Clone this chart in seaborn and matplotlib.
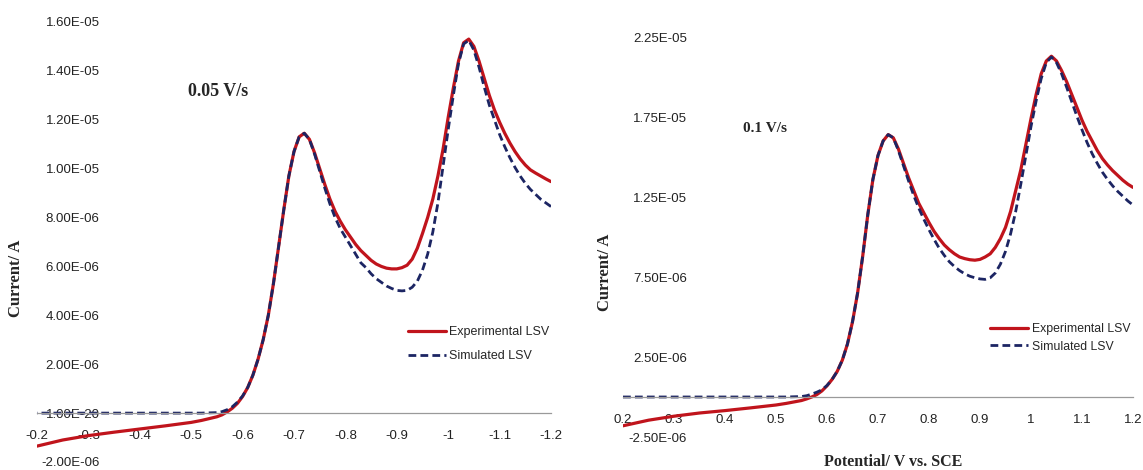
import matplotlib
matplotlib.use("Agg")
import matplotlib.pyplot as plt
import pandas as pd
import seaborn as sns

# ---- data (currents in microamps) ----
pot_slow = [-0.20, -0.25, -0.30, -0.35, -0.40, -0.45, -0.50, -0.52,
            -0.55, -0.56, -0.57, -0.58, -0.59, -0.60, -0.61, -0.62, -0.63, -0.64,
            -0.65, -0.66, -0.67, -0.68, -0.69, -0.70, -0.71, -0.72, -0.73, -0.74,
            -0.75, -0.76, -0.77, -0.78, -0.79, -0.80, -0.81, -0.82, -0.83, -0.84,
            -0.85, -0.86, -0.87, -0.88, -0.89, -0.90, -0.91, -0.92, -0.93, -0.94,
            -0.95, -0.96, -0.97, -0.98, -0.99, -1.00, -1.01, -1.02, -1.03, -1.04,
            -1.05, -1.06, -1.07, -1.08, -1.09, -1.10, -1.11, -1.12, -1.13, -1.14,
            -1.15, -1.16, -1.17, -1.18, -1.19, -1.20]
exp_slow = [-1.35, -1.1, -0.92, -0.78, -0.65, -0.52, -0.38, -0.3,
            -0.15, -0.07, 0.05, 0.2, 0.4, 0.68, 1.05, 1.55, 2.2, 3.0,
            4.0, 5.3, 6.8, 8.3, 9.7, 10.7, 11.3, 11.45, 11.2, 10.65,
            10.0, 9.35, 8.75, 8.25, 7.85, 7.5, 7.2, 6.9, 6.65, 6.45,
            6.25, 6.1, 6.0, 5.93, 5.9, 5.9, 5.95, 6.05, 6.3, 6.75,
            7.35, 8.0, 8.75, 9.7, 10.8, 12.1, 13.3, 14.4, 15.15, 15.3,
            15.0, 14.4, 13.7, 13.0, 12.4, 11.9, 11.45, 11.05, 10.7, 10.4,
            10.15, 9.95, 9.82, 9.7, 9.58, 9.47]
sim_slow = [0.0, 0.0, 0.0, 0.0, 0.0, 0.0, 0.0, 0.0,
            0.02, 0.06, 0.14, 0.26, 0.45, 0.7, 1.05, 1.55, 2.2, 3.0,
            4.0, 5.3, 6.8, 8.3, 9.7, 10.7, 11.3, 11.45, 11.2, 10.6,
            9.9, 9.2, 8.55, 8.0, 7.55, 7.2, 6.85, 6.5, 6.15, 5.95,
            5.7, 5.5, 5.35, 5.2, 5.1, 5.02, 5.0, 5.02, 5.15, 5.4,
            5.85, 6.5, 7.4, 8.6, 10.1, 11.6, 13.0, 14.3, 15.1, 15.25,
            14.85, 14.15, 13.35, 12.6, 12.0, 11.4, 10.9, 10.45, 10.05, 9.7,
            9.4, 9.15, 8.95, 8.75, 8.6, 8.45]

pot_fast = [0.20, 0.25, 0.30, 0.35, 0.40, 0.45, 0.50, 0.52,
            0.55, 0.56, 0.57, 0.58, 0.59, 0.60, 0.61, 0.62, 0.63, 0.64,
            0.65, 0.66, 0.67, 0.68, 0.69, 0.70, 0.71, 0.72, 0.73, 0.74,
            0.75, 0.76, 0.77, 0.78, 0.79, 0.80, 0.81, 0.82, 0.83, 0.84,
            0.85, 0.86, 0.87, 0.88, 0.89, 0.90, 0.91, 0.92, 0.93, 0.94,
            0.95, 0.96, 0.97, 0.98, 0.99, 1.00, 1.01, 1.02, 1.03, 1.04,
            1.05, 1.06, 1.07, 1.08, 1.09, 1.10, 1.11, 1.12, 1.13, 1.14,
            1.15, 1.16, 1.17, 1.18, 1.19, 1.20]
exp_fast = [-1.8, -1.45, -1.2, -1.0, -0.85, -0.68, -0.5, -0.4,
            -0.22, -0.12, 0.0, 0.15, 0.38, 0.7, 1.1, 1.6, 2.3, 3.3,
            4.7, 6.5, 8.8, 11.4, 13.6, 15.1, 16.0, 16.4, 16.2, 15.5,
            14.6, 13.7, 12.9, 12.1, 11.5, 10.9, 10.35, 9.9, 9.5, 9.2,
            8.95, 8.75, 8.65, 8.58, 8.55, 8.6, 8.75, 8.95, 9.35, 9.9,
            10.6, 11.6, 12.9, 14.2, 15.8, 17.4, 18.9, 20.2, 21.0, 21.3,
            21.0, 20.4, 19.7, 18.9, 18.1, 17.3, 16.6, 16.0, 15.4, 14.9,
            14.5, 14.15, 13.85, 13.55, 13.3, 13.1]
sim_fast = [0.0, 0.0, 0.0, 0.0, 0.0, 0.0, 0.0, 0.0,
            0.03, 0.08, 0.18, 0.3, 0.45, 0.72, 1.1, 1.6, 2.3, 3.3,
            4.7, 6.5, 8.8, 11.4, 13.6, 15.1, 16.0, 16.4, 16.2, 15.4,
            14.45, 13.5, 12.6, 11.8, 11.1, 10.45, 9.85, 9.3, 8.85, 8.45,
            8.15, 7.9, 7.7, 7.55, 7.45, 7.38, 7.35, 7.45, 7.75, 8.3,
            9.1, 10.2, 11.6, 13.3, 15.1, 16.9, 18.5, 19.9, 20.9, 21.25,
            20.9, 20.2, 19.35, 18.45, 17.55, 16.7, 15.9, 15.2, 14.6, 14.05,
            13.6, 13.2, 12.85, 12.55, 12.25, 12.0]

slow_yticks = [-2e-6, 1e-20, 2e-6, 4e-6, 6e-6, 8e-6, 1e-5, 1.2e-5, 1.4e-5, 1.6e-5]
slow_ylabels = ["-2.00E-06", "1.00E-20", "2.00E-06", "4.00E-06", "6.00E-06",
                "8.00E-06", "1.00E-05", "1.20E-05", "1.40E-05", "1.60E-05"]
slow_xticks = [-0.2, -0.3, -0.4, -0.5, -0.6, -0.7, -0.8, -0.9, -1.0, -1.1, -1.2]
slow_xlabels = ["-0.2", "-0.3", "-0.4", "-0.5", "-0.6", "-0.7", "-0.8", "-0.9", "-1", "-1.1", "-1.2"]

fast_yticks = [-2.5e-6, 2.5e-6, 7.5e-6, 1.25e-5, 1.75e-5, 2.25e-5]
fast_ylabels = ["-2.50E-06", "2.50E-06", "7.50E-06", "1.25E-05", "1.75E-05", "2.25E-05"]
fast_xticks = [0.2, 0.3, 0.4, 0.5, 0.6, 0.7, 0.8, 0.9, 1.0, 1.1, 1.2]
fast_xlabels = ["0.2", "0.3", "0.4", "0.5", "0.6", "0.7", "0.8", "0.9", "1", "1.1", "1.2"]

RED = "#c0141c"
NAVY = "#1c2563"
GREY = "#9a9a9a"

sns.set_style("white")
plt.rcParams["font.family"] = ["Liberation Sans Narrow", "Liberation Sans", "DejaVu Sans"]

fig = plt.figure(figsize=(11.43, 4.7), dpi=100)
ax1 = fig.add_axes([37 / 1143, 1 - 462 / 470, 514 / 1143, 440 / 470])
ax2 = fig.add_axes([623 / 1143, 1 - 437 / 470, 510 / 1143, 400 / 470])


def panel(ax, pot, exp, sim, xlim, ylim, xt, xl, yt, yl, ypad):
    df = pd.DataFrame({"E": pot, "exp": [v * 1e-6 for v in exp], "sim": [v * 1e-6 for v in sim]})
    sns.lineplot(data=df, x="E", y="exp", ax=ax, color=RED, linewidth=2.3,
                 label="Experimental LSV")
    sns.lineplot(data=df, x="E", y="sim", ax=ax, color=NAVY, linewidth=2.0,
                 linestyle=(0, (2.8, 1.5)), label="Simulated LSV")
    ax.set_xlim(*xlim)
    ax.set_ylim(*ylim)
    ax.set_xticks(xt, xl)
    ax.set_yticks(yt, yl)
    for s in ["top", "right", "left"]:
        ax.spines[s].set_visible(False)
    ax.spines["bottom"].set_position(("data", 0))
    ax.spines["bottom"].set_color(GREY)
    ax.spines["bottom"].set_linewidth(0.9)
    ax.tick_params(axis="x", direction="out", length=4, color=GREY, labelsize=9.5,
                   pad=8.5, labelcolor="#222222")
    ax.tick_params(axis="y", length=0, pad=ypad, labelsize=9.5, labelcolor="#222222")
    ax.set_xlabel("")
    ax.set_ylabel("")
    ax.patch.set_alpha(0)


panel(ax1, pot_slow, exp_slow, sim_slow, (-0.2, -1.2), (-2e-6, 1.6e-5),
      slow_xticks, slow_xlabels, slow_yticks, slow_ylabels, -45)
panel(ax2, pot_fast, exp_fast, sim_fast, (0.2, 1.2), (-2.5e-6, 2.25e-5),
      fast_xticks, fast_xlabels, fast_yticks, fast_ylabels, -46)

ax1.legend(loc="upper left", bbox_to_anchor=(408 / 1143, 1 - 326 / 470),
           bbox_transform=fig.transFigure, frameon=False, fontsize=9,
           handlelength=3.0, handletextpad=0.3, labelspacing=0.95,
           borderpad=0, borderaxespad=0)
ax2.legend(loc="upper left", bbox_to_anchor=(990 / 1143, 1 - 323 / 470),
           bbox_transform=fig.transFigure, frameon=False, fontsize=8.8,
           handlelength=3.1, handletextpad=0.3, labelspacing=0.45,
           borderpad=0, borderaxespad=0)

serif = ["Liberation Serif", "DejaVu Serif"]
fig.text(218 / 1143, 1 - 92 / 470, "0.05 V/s", family=serif, fontweight="bold",
         fontsize=13, ha="center", va="center")
fig.text(765 / 1143, 1 - 128 / 470, "0.1 V/s", family=serif, fontweight="bold",
         fontsize=11, ha="center", va="center")
fig.text(16 / 1143, 1 - 278 / 470, "Current/ A", family=serif, fontweight="bold",
         fontsize=12, rotation=90, ha="center", va="center")
fig.text(605 / 1143, 1 - 272 / 470, "Current/ A", family=serif, fontweight="bold",
         fontsize=12, rotation=90, ha="center", va="center")
fig.text(893 / 1143, 1 - 462 / 470, "Potential/ V vs. SCE", family=serif,
         fontweight="bold", fontsize=11.5, ha="center", va="center")

fig.savefig("out.png", dpi=100)
